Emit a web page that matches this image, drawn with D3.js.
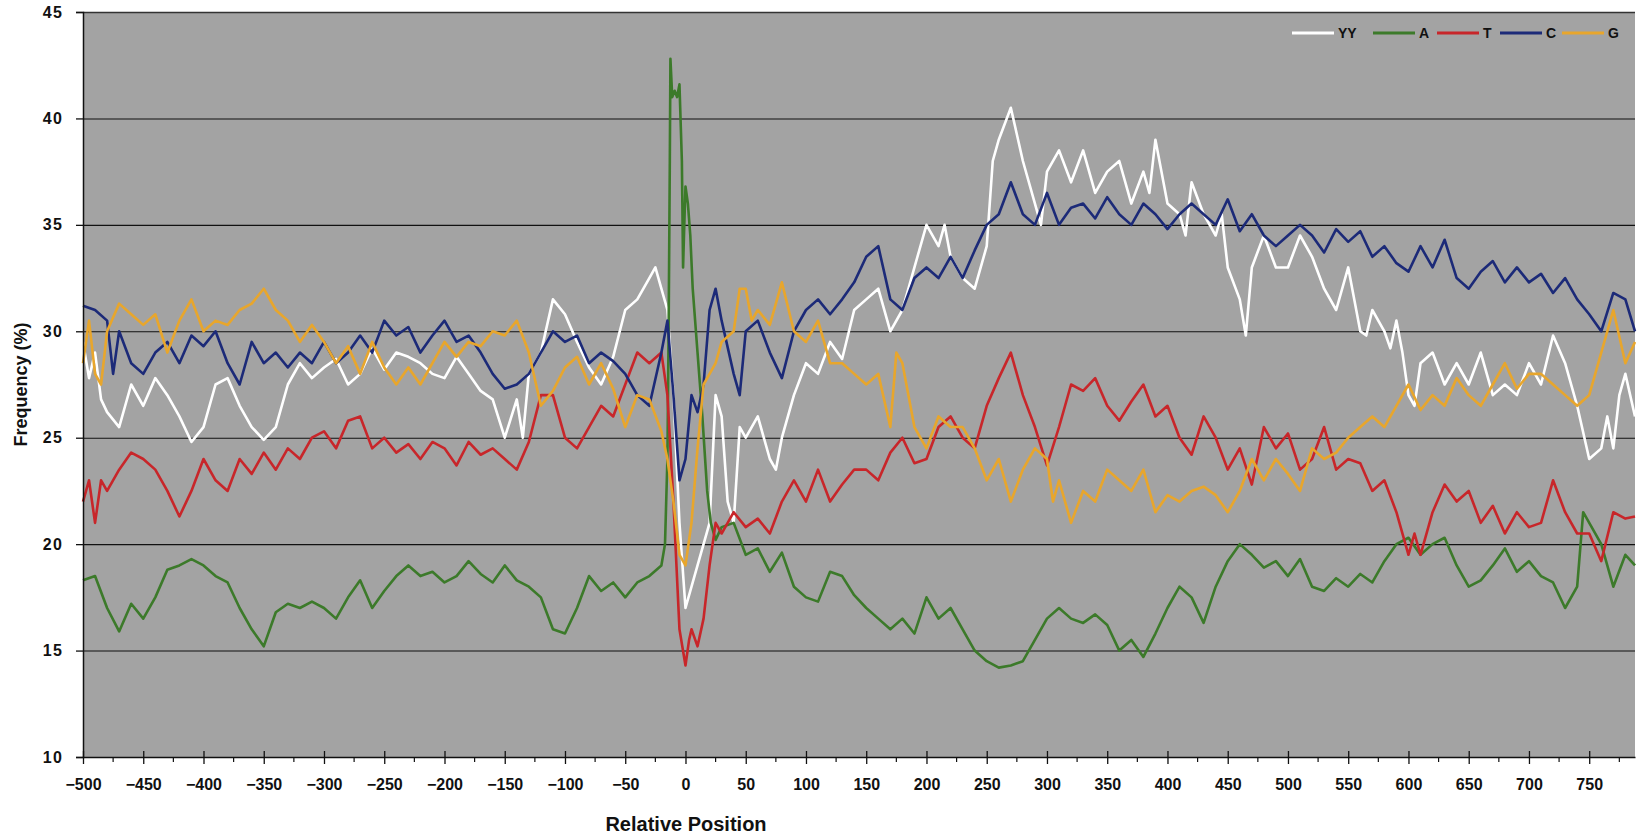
<!DOCTYPE html>
<html>
<head>
<meta charset="utf-8">
<script src="https://cdn.jsdelivr.net/npm/d3@7"></script>
<style>
  body { margin: 0; background: #ffffff; }
  svg { display: block; }
  text { font-family: "Liberation Sans", Arial, sans-serif; font-weight: bold; fill: #111; }
</style>
</head>
<body>
<svg id="chart" width="1639" height="836"></svg>
<script>
// Nucleotide frequency profiles around the reference site, [position, percent]
const yyValues = [
  [-500,29.5],[-495,27.8],[-490,29.0],[-485,26.8],[-480,26.2],[-470,25.5],[-460,27.5],[-450,26.5],[-440,27.8],[-430,27.0],
  [-420,26.0],[-410,24.8],[-400,25.5],[-390,27.5],[-380,27.8],[-370,26.5],[-360,25.5],[-350,24.9],[-340,25.5],
  [-330,27.5],[-320,28.5],[-310,27.8],[-300,28.3],[-290,28.7],[-280,27.5],[-270,28.0],[-260,29.2],[-250,28.2],
  [-240,29.0],[-230,28.8],[-220,28.5],[-210,28.0],[-200,27.8],[-190,28.8],[-180,28.0],[-170,27.2],[-160,26.8],
  [-150,25.0],[-140,26.8],[-135,25.0],[-130,28.0],[-120,29.0],[-110,31.5],[-100,30.8],[-90,29.5],[-80,28.3],
  [-70,27.5],[-60,28.8],[-50,31.0],[-40,31.5],[-30,32.5],[-25,33.0],[-20,32.0],[-15,31.0],[-10,27.0],[-5,21.0],
  [0,17.0],[5,18.0],[10,19.0],[15,20.0],[20,21.0],[25,27.0],[30,26.0],[35,22.0],[40,21.0],[45,25.5],[50,25.0],
  [60,26.0],[70,24.0],[75,23.5],[80,25.0],[90,27.0],[100,28.5],[110,28.0],[120,29.5],[130,28.7],[140,31.0],
  [150,31.5],[160,32.0],[170,30.0],[180,31.0],[190,33.0],[200,35.0],[210,34.0],[215,35.0],[220,33.5],[230,32.5],
  [240,32.0],[250,34.0],[255,38.0],[260,39.0],[270,40.5],[280,38.0],[290,36.0],[295,35.0],[300,37.5],[310,38.5],
  [320,37.0],[330,38.5],[340,36.5],[350,37.5],[360,38.0],[370,36.0],[380,37.5],[385,36.5],[390,39.0],[400,36.0],
  [410,35.5],[415,34.5],[420,37.0],[430,35.5],[440,34.5],[445,35.5],[450,33.0],[460,31.5],[465,29.8],[470,33.0],
  [480,34.5],[490,33.0],[500,33.0],[510,34.5],[520,33.5],[530,32.0],[540,31.0],[550,33.0],[560,30.0],[565,29.8],
  [570,31.0],[580,30.0],[585,29.2],[590,30.5],[595,29.0],[600,27.0],[605,26.5],[610,28.5],[620,29.0],[630,27.5],
  [640,28.5],[650,27.5],[660,29.0],[670,27.0],[680,27.5],[690,27.0],[700,28.5],[710,27.5],[720,29.8],[730,28.5],
  [740,26.5],[750,24.0],[760,24.5],[765,26.0],[770,24.5],[775,27.0],[780,28.0],[788,26.0]
];
const aValues = [
  [-500,18.3],[-490,18.5],[-480,17.0],[-470,15.9],[-460,17.2],[-450,16.5],[-440,17.5],[-430,18.8],[-420,19.0],
  [-410,19.3],[-400,19.0],[-390,18.5],[-380,18.2],[-370,17.0],[-360,16.0],[-350,15.2],[-340,16.8],[-330,17.2],
  [-320,17.0],[-310,17.3],[-300,17.0],[-290,16.5],[-280,17.5],[-270,18.3],[-260,17.0],[-250,17.8],[-240,18.5],
  [-230,19.0],[-220,18.5],[-210,18.7],[-200,18.2],[-190,18.5],[-180,19.2],[-170,18.6],[-160,18.2],[-150,19.0],
  [-140,18.3],[-130,18.0],[-120,17.5],[-110,16.0],[-100,15.8],[-90,17.0],[-80,18.5],[-70,17.8],[-60,18.2],
  [-50,17.5],[-40,18.2],[-30,18.5],[-20,19.0],[-17,20.0],[-15,24.0],[-14,30.0],[-13,38.0],[-12.5,42.8],[-11,41.0],
  [-9,41.3],[-7,41.0],[-5,41.6],[-3,38.0],[-2,33.0],[-1,35.0],[0,36.8],[2,36.0],[4,34.5],[6,32.0],[10,29.0],
  [14,26.0],[18,22.5],[21,21.0],[25,20.2],[30,20.8],[40,21.0],[50,19.5],[60,19.8],[70,18.7],[80,19.6],[90,18.0],
  [100,17.5],[110,17.3],[120,18.7],[130,18.5],[140,17.6],[150,17.0],[160,16.5],[170,16.0],[180,16.5],[190,15.8],
  [200,17.5],[210,16.5],[220,17.0],[230,16.0],[240,15.0],[250,14.5],[260,14.2],[270,14.3],[280,14.5],[290,15.5],
  [300,16.5],[310,17.0],[320,16.5],[330,16.3],[340,16.7],[350,16.2],[360,15.0],[370,15.5],[380,14.7],[390,15.8],
  [400,17.0],[410,18.0],[420,17.5],[430,16.3],[440,18.0],[450,19.2],[460,20.0],[470,19.5],[480,18.9],[490,19.2],
  [500,18.5],[510,19.3],[520,18.0],[530,17.8],[540,18.4],[550,18.0],[560,18.6],[570,18.2],[580,19.2],[590,20.0],
  [600,20.3],[610,19.5],[620,20.0],[630,20.3],[640,19.0],[650,18.0],[660,18.3],[670,19.0],[680,19.8],[690,18.7],
  [700,19.2],[710,18.5],[720,18.2],[730,17.0],[740,18.0],[745,21.5],[760,20.0],[770,18.0],[780,19.5],[788,19.0]
];
const tValues = [
  [-500,22.0],[-495,23.0],[-490,21.0],[-485,23.0],[-480,22.5],[-470,23.5],[-460,24.3],[-450,24.0],[-440,23.5],
  [-430,22.5],[-420,21.3],[-410,22.5],[-400,24.0],[-390,23.0],[-380,22.5],[-370,24.0],[-360,23.3],[-350,24.3],
  [-340,23.5],[-330,24.5],[-320,24.0],[-310,25.0],[-300,25.3],[-290,24.5],[-280,25.8],[-270,26.0],[-260,24.5],
  [-250,25.0],[-240,24.3],[-230,24.7],[-220,24.0],[-210,24.8],[-200,24.5],[-190,23.7],[-180,24.8],[-170,24.2],
  [-160,24.5],[-150,24.0],[-140,23.5],[-130,24.8],[-120,27.0],[-110,27.0],[-100,25.0],[-90,24.5],[-80,25.5],
  [-70,26.5],[-60,26.0],[-50,27.5],[-40,29.0],[-30,28.5],[-20,29.0],[-15,27.0],[-10,22.0],[-5,16.0],[0,14.3],
  [3,15.5],[5,16.0],[10,15.2],[15,16.5],[20,19.0],[25,21.0],[30,20.5],[35,21.0],[40,21.5],[50,20.8],[60,21.2],
  [70,20.5],[80,22.0],[90,23.0],[100,22.0],[110,23.5],[120,22.0],[130,22.8],[140,23.5],[150,23.5],[160,23.0],
  [170,24.3],[180,25.0],[190,23.8],[200,24.0],[210,25.5],[220,26.0],[230,25.0],[240,24.5],[250,26.5],[260,27.8],
  [270,29.0],[280,27.0],[290,25.5],[300,23.7],[310,25.5],[320,27.5],[330,27.2],[340,27.8],[350,26.5],[360,25.8],
  [370,26.7],[380,27.5],[390,26.0],[400,26.5],[410,25.0],[420,24.2],[430,26.0],[440,25.0],[450,23.5],[460,24.5],
  [470,22.8],[480,25.5],[490,24.5],[500,25.2],[510,23.5],[520,24.0],[530,25.5],[540,23.5],[550,24.0],[560,23.8],
  [570,22.5],[580,23.0],[590,21.5],[600,19.5],[605,20.5],[610,19.5],[620,21.5],[630,22.8],[640,22.0],[650,22.5],
  [660,21.0],[670,21.8],[680,20.5],[690,21.5],[700,20.8],[710,21.0],[720,23.0],[730,21.5],[740,20.5],[750,20.5],
  [760,19.2],[770,21.5],[780,21.2],[788,21.3]
];
const cValues = [
  [-500,31.2],[-490,31.0],[-480,30.5],[-475,28.0],[-470,30.0],[-460,28.5],[-450,28.0],[-440,29.0],[-430,29.5],
  [-420,28.5],[-410,29.8],[-400,29.3],[-390,30.0],[-380,28.5],[-370,27.5],[-360,29.5],[-350,28.5],[-340,29.0],
  [-330,28.3],[-320,29.0],[-310,28.5],[-300,29.5],[-290,28.5],[-280,29.0],[-270,29.8],[-260,29.0],[-250,30.5],
  [-240,29.8],[-230,30.2],[-220,29.0],[-210,29.8],[-200,30.5],[-190,29.5],[-180,29.8],[-170,29.0],[-160,28.0],
  [-150,27.3],[-140,27.5],[-130,28.0],[-120,29.0],[-110,30.0],[-100,29.5],[-90,29.8],[-80,28.5],[-70,29.0],
  [-60,28.6],[-50,28.0],[-40,27.0],[-30,26.5],[-20,29.0],[-15,30.5],[-10,27.0],[-5,23.0],[0,24.0],[5,27.0],
  [10,26.2],[15,27.5],[20,31.0],[25,32.0],[30,30.5],[40,28.0],[45,27.0],[50,30.0],[60,30.5],[70,29.0],[80,27.8],
  [90,30.0],[100,31.0],[110,31.5],[120,30.8],[130,31.5],[140,32.3],[150,33.5],[160,34.0],[170,31.5],[180,31.0],
  [190,32.5],[200,33.0],[210,32.5],[220,33.5],[230,32.5],[240,33.8],[250,35.0],[260,35.5],[270,37.0],[280,35.5],
  [290,35.0],[300,36.5],[310,35.0],[320,35.8],[330,36.0],[340,35.3],[350,36.3],[360,35.5],[370,35.0],[380,36.0],
  [390,35.5],[400,34.8],[410,35.5],[420,36.0],[430,35.5],[440,35.0],[450,36.2],[460,34.7],[470,35.5],[480,34.5],
  [490,34.0],[500,34.5],[510,35.0],[520,34.5],[530,33.7],[540,34.8],[550,34.2],[560,34.7],[570,33.5],[580,34.0],
  [590,33.2],[600,32.8],[610,34.0],[620,33.0],[630,34.3],[640,32.5],[650,32.0],[660,32.8],[670,33.3],[680,32.3],
  [690,33.0],[700,32.3],[710,32.7],[720,31.8],[730,32.5],[740,31.5],[750,30.8],[760,30.0],[770,31.8],[780,31.5],
  [788,30.0]
];
const gValues = [
  [-500,28.5],[-495,30.5],[-490,28.0],[-485,27.5],[-480,30.0],[-470,31.3],[-460,30.8],[-450,30.3],[-440,30.8],
  [-430,29.0],[-420,30.5],[-410,31.5],[-400,30.0],[-390,30.5],[-380,30.3],[-370,31.0],[-360,31.3],[-350,32.0],
  [-340,31.0],[-330,30.5],[-320,29.5],[-310,30.3],[-300,29.5],[-290,28.5],[-280,29.3],[-270,28.0],[-260,29.5],
  [-250,28.3],[-240,27.5],[-230,28.3],[-220,27.5],[-210,28.5],[-200,29.5],[-190,28.8],[-180,29.5],[-170,29.3],
  [-160,30.0],[-150,29.8],[-140,30.5],[-130,29.0],[-120,26.5],[-110,27.2],[-100,28.3],[-90,28.8],[-80,27.5],
  [-70,28.5],[-60,27.3],[-50,25.5],[-40,27.0],[-30,26.8],[-20,25.3],[-15,24.0],[-10,22.0],[-5,19.5],[0,19.0],
  [5,21.0],[10,24.5],[15,27.5],[20,28.0],[25,28.5],[30,29.5],[40,30.0],[45,32.0],[50,32.0],[55,30.5],[60,31.0],
  [70,30.3],[80,32.3],[90,30.0],[100,29.5],[110,30.5],[120,28.5],[130,28.5],[140,28.0],[150,27.5],[160,28.0],
  [170,25.5],[175,29.0],[180,28.5],[190,25.5],[200,24.5],[210,26.0],[220,25.5],[230,25.5],[240,24.5],[250,23.0],
  [260,24.0],[270,22.0],[280,23.5],[290,24.5],[300,24.0],[305,22.0],[310,23.0],[320,21.0],[330,22.5],[340,22.0],
  [350,23.5],[360,23.0],[370,22.5],[380,23.5],[390,21.5],[400,22.3],[410,22.0],[420,22.5],[430,22.7],[440,22.3],
  [450,21.5],[460,22.5],[470,24.0],[480,23.0],[490,24.0],[500,23.3],[510,22.5],[520,24.5],[530,24.0],[540,24.3],
  [550,25.0],[560,25.5],[570,26.0],[580,25.5],[590,26.5],[600,27.5],[610,26.3],[620,27.0],[630,26.5],[640,27.8],
  [650,27.0],[660,26.5],[670,27.5],[680,28.5],[690,27.3],[700,28.0],[710,28.0],[720,27.5],[730,27.0],[740,26.5],
  [750,27.0],[760,29.0],[770,31.0],[780,28.5],[788,29.5]
];

const seriesNames  = ["YY", "A", "T", "C", "G"];
const seriesColors = ["#ffffff", "#3c7a2a", "#c8262a", "#1c2a78", "#e8a62c"];
const seriesData   = [yyValues, aValues, tValues, cValues, gValues];

const xTicks = d3.range(-500, 751, 50);
const xMinorTicks = d3.range(-475, 788, 50);
const yTicks = [10, 15, 20, 25, 30, 35, 40, 45];

const svg = d3.select("#chart");
const plot = { left: 83, right: 1635, top: 12, bottom: 757 };

const x = d3.scaleLinear().domain([-500, 788]).range([plot.left, plot.right]);
const y = d3.scaleLinear().domain([10, 45]).range([plot.bottom, plot.top]);

// plot area
svg.append("rect")
  .attr("x", plot.left).attr("y", plot.top)
  .attr("width", plot.right - plot.left).attr("height", plot.bottom - plot.top)
  .attr("fill", "#a3a3a3");

// horizontal gridlines
svg.append("g")
  .selectAll("line")
  .data(yTicks.filter(d => d > 10))
  .join("line")
  .attr("x1", plot.left).attr("x2", plot.right)
  .attr("y1", d => y(d) + 0.5).attr("y2", d => y(d) + 0.5)
  .attr("stroke", d => d === 45 ? "#333" : "#111")
  .attr("stroke-width", d => d === 45 ? 1.6 : 1.1);

// data lines
const line = d3.line().x(d => x(d[0])).y(d => y(d[1]));
svg.append("g")
  .selectAll("path")
  .data(seriesData)
  .join("path")
  .attr("d", line)
  .attr("fill", "none")
  .attr("stroke", (d, i) => seriesColors[i])
  .attr("stroke-width", 2.6)
  .attr("stroke-linejoin", "round");

// y axis
const yAxis = d3.axisLeft(y).tickValues(yTicks).tickSize(7).tickPadding(13);
const gy = svg.append("g").attr("transform", `translate(${plot.left},0)`).call(yAxis);
gy.select(".domain").attr("stroke", "#111").attr("stroke-width", 1.5);
gy.selectAll(".tick line").attr("stroke", "#111").attr("stroke-width", 1.3);
gy.selectAll(".tick text").attr("font-size", 16).attr("font-family", "Liberation Sans, Arial, sans-serif")
  .attr("font-weight", "bold").attr("fill", "#111").attr("letter-spacing", 1.2);

// x axis: major ticks cross the baseline, minor ticks hang below
const xAxis = d3.axisBottom(x).tickValues(xTicks).tickSize(7).tickPadding(15).tickSizeOuter(0);
const gx = svg.append("g").attr("transform", `translate(0,${plot.bottom})`).call(xAxis);
gx.select(".domain").attr("stroke", "#111").attr("stroke-width", 1.5);
gx.selectAll(".tick line").attr("y1", -6).attr("stroke", "#111").attr("stroke-width", 1.3);
gx.selectAll(".tick text").attr("font-size", 16).attr("font-family", "Liberation Sans, Arial, sans-serif")
  .attr("font-weight", "bold").attr("fill", "#111");
svg.append("g")
  .selectAll("line")
  .data(xMinorTicks)
  .join("line")
  .attr("x1", d => x(d)).attr("x2", d => x(d))
  .attr("y1", plot.bottom).attr("y2", plot.bottom + 5)
  .attr("stroke", "#111").attr("stroke-width", 1.2);

// axis titles
svg.append("text")
  .attr("transform", `translate(22,${(plot.top + plot.bottom) / 2}) rotate(-90)`)
  .attr("text-anchor", "middle").attr("dominant-baseline", "middle")
  .attr("font-size", 18)
  .text("Frequency (%)");
svg.append("text")
  .attr("x", 686).attr("y", 831)
  .attr("text-anchor", "middle")
  .attr("font-size", 20)
  .text("Relative Position");

// legend
const legendX = [1292, 1373, 1437, 1500, 1562];
const legend = svg.append("g").attr("transform", "translate(0,33)");
const entries = legend.selectAll("g").data(seriesNames).join("g")
  .attr("transform", (d, i) => `translate(${legendX[i]},0)`);
entries.append("line")
  .attr("x1", 0).attr("x2", 42).attr("y1", 0).attr("y2", 0)
  .attr("stroke", (d, i) => seriesColors[i]).attr("stroke-width", 3);
entries.append("text")
  .attr("x", 46).attr("y", 0).attr("dominant-baseline", "central")
  .attr("font-size", 14)
  .text(d => d);
</script>
</body>
</html>
